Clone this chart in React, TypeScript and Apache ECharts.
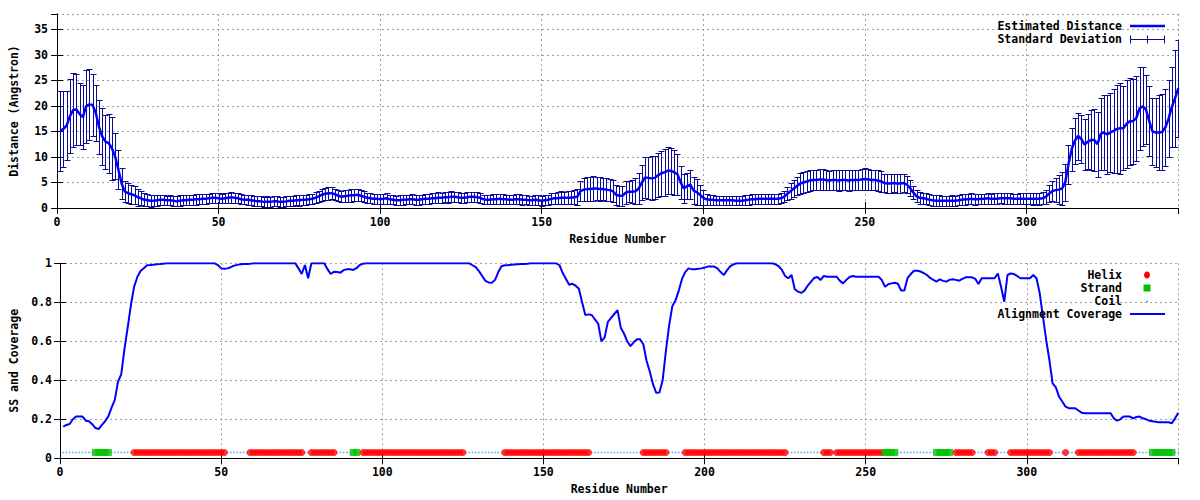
import React, { useEffect, useRef } from "react";
import * as echarts from "echarts";

// ---------- DATA ----------
const estimatedDistance = [
  15.1, 15.5, 16.2, 18.0, 19.2, 19.3, 18.4, 17.8, 19.9, 20.3,
  20.2, 18.6, 15.9, 14.0, 13.0, 12.7, 11.7, 10.1, 7.5, 4.8,
  3.2, 2.9, 2.7, 2.5, 2.1, 1.9, 1.6, 1.5, 1.4, 1.4,
  1.5, 1.6, 1.6, 1.5, 1.5, 1.4, 1.3, 1.4, 1.5, 1.5,
  1.6, 1.6, 1.7, 1.7, 1.8, 1.8, 1.9, 2.0, 2.0, 1.9,
  1.8, 1.9, 2.0, 2.1, 2.0, 1.9, 1.7, 1.6, 1.6, 1.5,
  1.4, 1.3, 1.3, 1.2, 1.2, 1.2, 1.3, 1.3, 1.2, 1.2,
  1.3, 1.4, 1.4, 1.5, 1.5, 1.6, 1.6, 1.7, 1.8, 2.0,
  2.3, 2.6, 2.8, 2.9, 2.9, 2.7, 2.4, 2.2, 2.3, 2.4,
  2.5, 2.5, 2.6, 2.4, 2.2, 2.0, 1.9, 1.8, 1.8, 1.7,
  1.8, 1.9, 1.7, 1.6, 1.5, 1.5, 1.6, 1.6, 1.7, 1.7,
  1.6, 1.6, 1.7, 1.8, 1.8, 1.9, 1.9, 2.0, 2.0, 2.1,
  2.1, 2.2, 2.2, 2.1, 2.0, 2.0, 2.1, 2.2, 2.2, 2.1,
  2.0, 1.7, 1.6, 1.6, 1.7, 1.7, 1.8, 1.7, 1.7, 1.6,
  1.6, 1.7, 1.7, 1.6, 1.6, 1.5, 1.5, 1.6, 1.5, 1.4,
  1.5, 1.6, 1.8, 1.9, 1.9, 2.0, 2.0, 2.0, 2.0, 2.1,
  2.2, 3.3, 3.6, 3.7, 3.7, 3.8, 3.8, 3.7, 3.7, 3.6,
  3.5, 3.3, 2.6, 2.4, 2.4, 3.0, 3.2, 3.2, 3.3, 3.8,
  5.0, 6.0, 5.9, 5.8, 5.9, 6.4, 6.8, 7.0, 7.3, 7.3,
  7.0, 6.6, 5.0, 3.8, 4.3, 4.6, 3.4, 3.1, 2.6, 2.0,
  1.7, 1.6, 1.6, 1.5, 1.5, 1.5, 1.5, 1.5, 1.5, 1.4,
  1.4, 1.4, 1.5, 1.6, 1.7, 1.7, 1.8, 1.8, 1.8, 1.8,
  1.8, 1.8, 1.8, 1.9, 2.2, 2.8, 3.3, 3.8, 4.3, 4.8,
  5.0, 5.2, 5.4, 5.5, 5.5, 5.6, 5.6, 5.5, 5.4, 5.5,
  5.5, 5.4, 5.5, 5.5, 5.4, 5.5, 5.5, 5.5, 5.6, 5.7,
  5.6, 5.5, 5.5, 5.4, 5.2, 4.9, 4.8, 4.8, 4.9, 4.8,
  4.8, 4.9, 4.6, 3.9, 3.0, 2.3, 2.0, 1.9, 1.8, 1.6,
  1.5, 1.4, 1.4, 1.4, 1.4, 1.4, 1.4, 1.4, 1.5, 1.6,
  1.7, 1.7, 1.8, 1.7, 1.7, 1.8, 1.8, 1.9, 1.8, 1.8,
  1.8, 1.9, 1.9, 1.9, 1.9, 1.8, 1.8, 1.8, 1.8, 1.8,
  1.8, 1.8, 1.8, 1.8, 1.9, 2.2, 2.8, 3.3, 3.5, 3.6,
  3.8, 5.0, 8.5, 11.5, 13.2, 14.1, 13.5, 12.4, 13.0, 13.3,
  13.3, 12.5, 14.5, 14.8, 14.4, 14.8, 15.1, 15.5, 15.6, 15.6,
  16.5, 17.0, 17.0, 17.6, 19.5, 19.9, 19.3, 17.0, 15.0, 14.8,
  14.8, 14.9, 15.8, 17.5, 19.8, 21.5, 23.5,
];

const standardDeviation = [
  7.8, 7.5, 6.8, 7.3, 7.2, 7.0, 6.0, 6.3, 7.1, 7.0,
  6.0, 5.5, 5.3, 5.5, 5.3, 5.8, 6.2, 4.5, 3.8, 3.0,
  2.0, 2.0, 1.9, 1.8, 1.7, 1.4, 1.3, 1.2, 1.2, 1.1,
  1.1, 1.0, 1.0, 0.9, 1.0, 1.0, 1.0, 1.1, 1.0, 1.0,
  1.0, 1.0, 1.1, 1.0, 1.0, 1.0, 0.9, 1.0, 1.0, 1.0,
  0.9, 1.0, 1.0, 1.1, 1.0, 1.0, 1.0, 0.9, 1.0, 1.0,
  1.0, 1.0, 1.0, 1.0, 1.1, 1.0, 1.0, 1.0, 1.0, 1.0,
  1.0, 1.0, 1.0, 1.0, 1.1, 1.0, 1.0, 1.0, 1.0, 1.1,
  1.1, 1.2, 1.2, 1.3, 1.2, 1.1, 1.1, 1.1, 1.2, 1.2,
  1.3, 1.2, 1.2, 1.1, 1.1, 1.0, 1.0, 1.0, 1.0, 1.0,
  1.0, 1.1, 0.9, 0.9, 0.9, 1.0, 1.0, 0.9, 0.9, 1.0,
  1.0, 1.0, 0.9, 1.0, 1.0, 1.0, 1.0, 1.1, 1.0, 1.0,
  1.1, 1.1, 1.0, 1.0, 1.0, 1.0, 1.0, 1.0, 1.0, 1.0,
  1.0, 0.9, 0.9, 0.9, 1.0, 1.0, 1.0, 1.0, 0.9, 0.9,
  0.9, 1.0, 1.0, 1.0, 0.9, 0.9, 0.9, 1.0, 1.0, 1.0,
  1.0, 1.0, 1.1, 1.1, 1.2, 1.3, 1.2, 1.3, 1.3, 1.4,
  1.6, 2.0, 2.2, 2.3, 2.3, 2.4, 2.3, 2.3, 2.2, 2.2,
  2.1, 2.1, 2.0, 2.0, 2.0, 2.2, 2.1, 2.2, 2.6, 3.0,
  3.5, 4.0, 4.1, 4.3, 4.2, 4.3, 4.4, 4.6, 4.6, 4.5,
  4.4, 4.0, 3.3, 2.8, 2.6, 2.8, 2.6, 2.5, 2.0, 1.5,
  1.1, 1.0, 1.0, 0.9, 0.9, 0.9, 0.9, 0.9, 0.9, 0.9,
  0.9, 0.9, 1.0, 1.0, 1.0, 1.0, 1.0, 1.0, 1.0, 1.0,
  1.0, 1.0, 1.0, 1.0, 1.1, 1.3, 1.5, 1.6, 1.8, 2.0,
  2.0, 2.0, 2.0, 2.0, 1.9, 2.0, 2.0, 2.0, 1.9, 2.0,
  2.0, 2.0, 1.9, 2.0, 2.0, 2.0, 2.0, 1.9, 2.0, 2.2,
  2.0, 2.0, 1.9, 2.0, 2.0, 1.8, 1.8, 1.8, 1.7, 1.8,
  1.8, 1.8, 1.7, 1.5, 1.3, 1.2, 1.2, 1.1, 1.1, 1.1,
  1.1, 1.1, 1.1, 1.0, 1.0, 1.0, 1.1, 1.0, 1.0, 1.1,
  1.1, 1.0, 1.1, 1.1, 1.0, 1.0, 1.0, 1.1, 1.0, 1.1,
  1.1, 1.0, 1.1, 1.1, 1.1, 1.0, 1.0, 1.1, 1.1, 1.1,
  1.1, 1.2, 1.1, 1.2, 1.2, 1.4, 1.7, 2.0, 2.4, 2.8,
  3.2, 3.6, 3.8, 4.2, 4.5, 4.6, 4.7, 5.0, 5.4, 5.8,
  6.0, 6.4, 7.0, 7.4, 7.7, 7.8, 8.2, 8.6, 8.9, 8.2,
  8.6, 8.5, 8.3, 8.3, 8.2, 7.8, 6.8, 6.8, 6.5, 6.8,
  7.3, 7.5, 7.6, 7.6, 7.8, 9.5, 9.5,
];

const alignmentCoverage = [
  0.162, 0.171, 0.176, 0.2, 0.214, 0.214, 0.214, 0.193, 0.19, 0.175,
  0.155, 0.15, 0.171, 0.19, 0.215, 0.26, 0.3, 0.393, 0.43, 0.56,
  0.67, 0.786, 0.88, 0.93, 0.96, 0.975, 0.99, 0.991, 0.993, 0.995,
  0.996, 0.998, 1, 1, 1, 1, 1, 1, 1, 1,
  1, 1, 1, 1, 1, 1, 1, 1, 0.991, 0.974,
  0.972, 0.974, 0.98, 0.988, 0.992, 0.995, 0.996, 0.997, 0.998, 1,
  1, 1, 1, 1, 1, 1, 1, 1, 1, 1,
  1, 1, 1, 0.974, 0.945, 0.991, 0.923, 1, 1, 1,
  1, 1, 0.97, 0.945, 0.957, 0.955, 0.952, 0.965, 0.969, 0.969,
  0.966, 0.975, 0.991, 0.998, 1, 1, 1, 1, 1, 1,
  1, 1, 1, 1, 1, 1, 1, 1, 1, 1,
  1, 1, 1, 1, 1, 1, 1, 1, 1, 1,
  1, 1, 1, 1, 1, 1, 1, 0.99, 0.98, 0.96,
  0.935, 0.91, 0.902, 0.9, 0.915, 0.955, 0.985, 0.99, 0.99, 0.992,
  0.994, 0.995, 0.996, 0.997, 0.998, 1, 1, 1, 1, 1,
  1, 1, 1, 1, 0.99, 0.95, 0.92, 0.89, 0.895, 0.885,
  0.87, 0.8, 0.735, 0.738, 0.735, 0.712, 0.69, 0.6, 0.62, 0.7,
  0.72, 0.74, 0.76, 0.67, 0.64, 0.6, 0.575, 0.595, 0.61, 0.61,
  0.585, 0.5, 0.445, 0.38, 0.336, 0.338, 0.4, 0.55, 0.68, 0.78,
  0.81, 0.86, 0.92, 0.955, 0.974, 0.97, 0.97, 0.972, 0.974, 0.978,
  0.983, 0.983, 0.983, 0.974, 0.955, 0.94, 0.965, 0.985, 0.995, 1,
  1, 1, 1, 1, 1, 1, 1, 1, 1, 1,
  1, 0.995, 0.985, 0.966, 0.935, 0.923, 0.94, 0.867, 0.855, 0.848,
  0.86, 0.885, 0.905, 0.925, 0.93, 0.914, 0.935, 0.931, 0.931, 0.931,
  0.931, 0.91, 0.897, 0.915, 0.93, 0.935, 0.931, 0.931, 0.931, 0.931,
  0.931, 0.931, 0.931, 0.931, 0.914, 0.88, 0.893, 0.897, 0.9, 0.895,
  0.86, 0.86, 0.925, 0.945, 0.962, 0.962, 0.958, 0.95, 0.94, 0.925,
  0.915, 0.906, 0.918, 0.91, 0.906, 0.915, 0.918, 0.915, 0.911, 0.92,
  0.928, 0.928, 0.928, 0.92, 0.894, 0.923, 0.923, 0.923, 0.923, 0.923,
  0.948, 0.88, 0.803, 0.94, 0.948, 0.945, 0.935, 0.923, 0.923, 0.923,
  0.923, 0.94, 0.923, 0.846, 0.726, 0.607, 0.504, 0.384, 0.364, 0.316,
  0.291, 0.265, 0.257, 0.257, 0.257, 0.245, 0.234, 0.231, 0.231, 0.231,
  0.231, 0.231, 0.231, 0.231, 0.231, 0.231, 0.205, 0.193, 0.2, 0.214,
  0.214, 0.214, 0.205, 0.212, 0.214, 0.205, 0.2, 0.193, 0.19, 0.187,
  0.185, 0.185, 0.185, 0.185, 0.18, 0.205, 0.234,
];

// secondary structure segments (residue ranges, inclusive)
const helixSegments = [
  [23, 51], [59, 75], [78, 85], [94, 125], [138, 164], [181, 188], [194, 225],
  [237, 239], [241, 255], [278, 283], [288, 290], [295, 307], [312, 312], [316, 333],
];
const strandSegments = [[11, 15], [91, 92], [256, 259], [272, 276], [339, 345]];
const ssLevel = 0.03;

const residueCount = 347;
const distanceTickMax = 38;
const xLabels = [0, 50, 100, 150, 200, 250, 300];

// ---------- BUILD ----------
const residues = estimatedDistance.map((_, i) => i + 1);
const inSeg = (r: number, segs: number[][]) => segs.some(([a, b]) => r >= a && r <= b);

const FONT = "'DejaVu Sans Mono', monospace";
const labelStyle = { fontFamily: FONT, fontWeight: "bold" as const, fontSize: 11.5, color: "#000" };
const gridLine = { show: true, lineStyle: { color: "#a0a0a0", type: [2, 3] as any, width: 1 } };
const BAR_COLOR = "#0a0a96";
const LINE_COLOR = "#0000ff";

function mainX(gridIndex: number, nameGap: number) {
  return {
    type: "value", gridIndex, min: 0, max: residueCount, interval: 50,
    name: "Residue Number", nameLocation: "middle", nameGap,
    nameTextStyle: { ...labelStyle },
    axisLine: { show: true, lineStyle: { color: "#000", width: 1 } },
    axisTick: { show: true, inside: true, length: 6, lineStyle: { color: "#000" } },
    axisLabel: {
      ...labelStyle, margin: 8, showMaxLabel: false,
      formatter: (v: number) => (xLabels.includes(v) ? String(v) : ""),
    },
    splitLine: gridLine,
  };
}
function mirrorX(gridIndex: number) {
  return {
    type: "value", gridIndex, min: 0, max: residueCount, interval: 50, position: "top",
    axisLine: { show: true, lineStyle: { color: "#000", width: 1 } },
    axisTick: { show: true, inside: true, length: 6, lineStyle: { color: "#000" } },
    axisLabel: { show: false }, splitLine: { show: false },
  };
}
function mirrorY(gridIndex: number, max: number, interval: number) {
  return {
    type: "value", gridIndex, min: 0, max, interval, position: "right",
    axisLine: { show: true, lineStyle: { color: "#000", width: 1 } },
    axisTick: { show: true, inside: true, length: 6, lineStyle: { color: "#000" } },
    axisLabel: { show: false }, splitLine: { show: false },
  };
}

function legendText(text: string, y: number) {
  return {
    type: "text", x: 1122, y, z: 100,
    style: { text, fill: "#000", font: `bold 11.5px ${FONT}`, align: "right", verticalAlign: "middle", textAlign: "right", textVerticalAlign: "middle" },
  };
}
function hline(x1: number, x2: number, y: number, stroke: string, lineWidth: number) {
  return { type: "line", z: 100, shape: { x1, y1: y, x2, y2: y }, style: { stroke, lineWidth } };
}
function vline(x: number, y1: number, y2: number, stroke: string) {
  return { type: "line", z: 100, shape: { x1: x, y1, x2: x, y2 }, style: { stroke, lineWidth: 1 } };
}

export default function App() {
  const ref = useRef<HTMLDivElement>(null);
  useEffect(() => {
    document.body.style.margin = "0";
    if (!ref.current) return;
    const chart = echarts.init(ref.current, null, { renderer: "svg" });

    const errData = residues.map((r, i) => [r, estimatedDistance[i], standardDeviation[i]]);
    const distData = residues.map((r, i) => [r, estimatedDistance[i]]);
    const covData = residues.map((r, i) => [r, alignmentCoverage[i]]);
    const helixData = residues.filter((r) => inSeg(r, helixSegments)).map((r) => [r, ssLevel]);
    const strandData = residues.filter((r) => inSeg(r, strandSegments)).map((r) => [r, ssLevel]);
    const coilData = residues
      .filter((r) => !inSeg(r, helixSegments) && !inSeg(r, strandSegments))
      .map((r) => [r, ssLevel]);

    chart.setOption({
      animation: false,
      backgroundColor: "#fff",
      grid: [
        { left: 52.7, top: 14, width: 1125.6, height: 194, containLabel: false },
        { left: 57.5, top: 263.3, width: 1120.8, height: 195, containLabel: false },
      ],
      xAxis: [mainX(0, 25), mirrorX(0), mainX(1, 25), mirrorX(1)],
      yAxis: [
        {
          type: "value", gridIndex: 0, min: 0, max: distanceTickMax, interval: 5,
          name: "Distance (Angstron)", nameLocation: "middle", nameGap: 37,
          nameTextStyle: { ...labelStyle },
          axisLine: { show: true, lineStyle: { color: "#000", width: 1 } },
          axisTick: { show: true, inside: true, length: 6, lineStyle: { color: "#000" } },
          axisLabel: { ...labelStyle, margin: 9, showMaxLabel: false, formatter: (v: number) => (v % 5 === 0 ? String(v) : "") },
          splitLine: gridLine,
        },
        mirrorY(0, distanceTickMax, 5),
        {
          type: "value", gridIndex: 1, min: 0, max: 1, interval: 0.2,
          name: "SS and Coverage", nameLocation: "middle", nameGap: 40,
          nameTextStyle: { ...labelStyle },
          axisLine: { show: true, lineStyle: { color: "#000", width: 1 } },
          axisTick: { show: true, inside: true, length: 6, lineStyle: { color: "#000" } },
          axisLabel: { ...labelStyle, margin: 8 },
          splitLine: gridLine,
        },
        mirrorY(1, 1, 0.2),
      ],
      series: [
        {
          name: "Standard Deviation", type: "custom", xAxisIndex: 0, yAxisIndex: 0,
          data: errData, clip: true, silent: true, z: 2,
          encode: { x: 0, y: 1 },
          renderItem: (params: any, api: any) => {
            const x = api.value(0), y = api.value(1), s = api.value(2);
            const top = api.coord([x, y + s]);
            const bot = api.coord([x, Math.max(0, y - s)]);
            const cx = Math.round(top[0]) + 0.5;
            const ty = Math.round(top[1]) + 0.5;
            const by = Math.round(bot[1]) + 0.5;
            const w = 3;
            const style = { stroke: BAR_COLOR, lineWidth: 1, fill: null };
            return {
              type: "group",
              children: [
                { type: "line", shape: { x1: cx, y1: ty, x2: cx, y2: by }, style },
                { type: "line", shape: { x1: cx - w, y1: ty, x2: cx + w, y2: ty }, style },
                { type: "line", shape: { x1: cx - w, y1: by, x2: cx + w, y2: by }, style },
              ],
            };
          },
        },
        {
          name: "Estimated Distance", type: "line", xAxisIndex: 0, yAxisIndex: 0,
          data: distData, showSymbol: false, z: 3, silent: true,
          lineStyle: { color: LINE_COLOR, width: 2.5 },
        },
        {
          name: "Coil", type: "scatter", xAxisIndex: 2, yAxisIndex: 2,
          data: coilData, symbol: "rect", symbolSize: 1.5, silent: true, z: 2,
          itemStyle: { color: "#1e90ff" },
        },
        {
          name: "Helix", type: "scatter", xAxisIndex: 2, yAxisIndex: 2,
          data: helixData, symbol: "circle", symbolSize: 7, silent: true, z: 2,
          itemStyle: { color: "#ff0000" },
        },
        {
          name: "Strand", type: "scatter", xAxisIndex: 2, yAxisIndex: 2,
          data: strandData, symbol: "rect", symbolSize: 7, silent: true, z: 2,
          itemStyle: { color: "#00c000" },
        },
        {
          name: "Alignment Coverage", type: "line", xAxisIndex: 2, yAxisIndex: 2,
          data: covData, showSymbol: false, z: 3, silent: true,
          lineStyle: { color: LINE_COLOR, width: 2 },
        },
      ],
      graphic: [
        legendText("Estimated Distance", 26),
        hline(1130, 1165, 26, LINE_COLOR, 2.5),
        legendText("Standard Deviation", 39),
        hline(1130, 1165, 39.5, BAR_COLOR, 1),
        vline(1130.5, 35.5, 43.5, BAR_COLOR),
        vline(1147.5, 35.5, 43.5, BAR_COLOR),
        vline(1164.5, 35.5, 43.5, BAR_COLOR),
        legendText("Helix", 275),
        { type: "ellipse", z: 100, shape: { cx: 1147, cy: 275, rx: 3, ry: 3.6 }, style: { fill: "#ff0000" } },
        legendText("Strand", 288),
        { type: "rect", z: 100, shape: { x: 1143.5, y: 284.5, width: 7, height: 7 }, style: { fill: "#00c000" } },
        legendText("Coil", 301),
        { type: "rect", z: 100, shape: { x: 1146.5, y: 300.5, width: 1.5, height: 1.5 }, style: { fill: "#1e90ff" } },
        legendText("Alignment Coverage", 314),
        hline(1130, 1165, 314, LINE_COLOR, 2),
      ],
    });
    return () => chart.dispose();
  }, []);
  return <div ref={ref} style={{ width: 1200, height: 500 }} />;
}
